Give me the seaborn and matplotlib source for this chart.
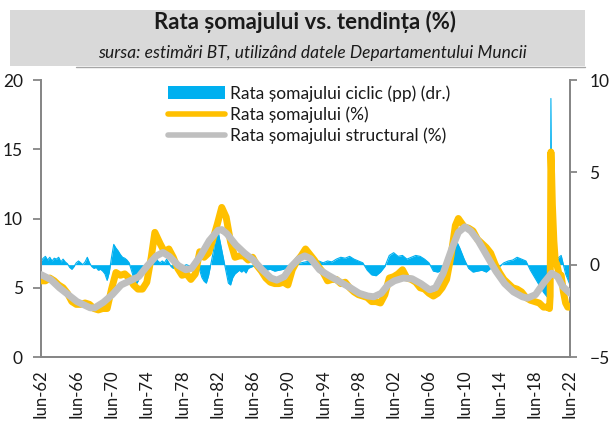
import numpy as np
import pandas as pd
import matplotlib
matplotlib.use("Agg")
import matplotlib.pyplot as plt
import seaborn as sns
from matplotlib.patches import Patch, Rectangle
from matplotlib.lines import Line2D

# ---------------- data ----------------
unemp_dates = [
    "1962-06", "1962-12", "1963-06", "1963-12", "1964-06", "1964-12", "1965-06", "1965-12",
    "1966-06", "1966-12", "1967-06", "1967-12", "1968-06", "1968-12", "1969-06", "1969-12",
    "1970-06", "1970-12", "1971-06", "1971-12", "1972-06", "1972-12", "1973-06", "1973-12",
    "1974-06", "1974-12", "1975-05", "1975-12", "1976-06", "1976-12", "1977-06", "1977-12",
    "1978-06", "1978-12", "1979-06", "1979-12", "1980-06", "1980-12", "1981-06", "1981-12",
    "1982-06", "1982-12", "1983-06", "1983-12", "1984-06", "1984-12", "1985-06", "1985-12",
    "1986-06", "1986-12", "1987-06", "1987-12", "1988-06", "1988-12", "1989-06", "1989-12",
    "1990-06", "1990-12", "1991-06", "1991-12", "1992-06", "1992-12", "1993-06", "1993-12",
    "1994-06", "1994-12", "1995-06", "1995-12", "1996-06", "1996-12", "1997-06", "1997-12",
    "1998-06", "1998-12", "1999-06", "1999-12", "2000-06", "2000-12", "2001-06", "2001-12",
    "2002-06", "2002-12", "2003-06", "2003-12", "2004-06", "2004-12", "2005-06", "2005-12",
    "2006-06", "2006-12", "2007-06", "2007-12", "2008-06", "2008-12", "2009-06", "2009-10",
    "2010-06", "2010-12", "2011-06", "2011-12", "2012-06", "2012-12", "2013-06", "2013-12",
    "2014-06", "2014-12", "2015-06", "2015-12", "2016-06", "2016-12", "2017-06", "2017-12",
    "2018-06", "2018-12", "2019-06", "2019-12", "2020-02", "2020-03", "2020-04", "2020-05",
    "2020-06", "2020-08", "2020-10", "2020-12", "2021-03", "2021-06", "2021-09", "2021-12",
    "2022-03", "2022-06",
]
unemp_vals = [
    5.5, 5.5, 5.7, 5.5, 5.2, 5.0, 4.6, 4.0,
    3.8, 3.8, 3.9, 3.8, 3.5, 3.4, 3.5, 3.5,
    4.9, 6.1, 5.9, 6.0, 5.7, 5.2, 4.9, 4.9,
    5.4, 7.2, 9.0, 8.2, 7.6, 7.8, 7.2, 6.4,
    5.9, 6.0, 5.6, 6.0, 7.6, 7.2, 7.5, 8.5,
    9.6, 10.8, 10.1, 8.3, 7.2, 7.3, 7.3, 7.0,
    7.2, 6.6, 6.2, 5.7, 5.4, 5.3, 5.3, 5.4,
    5.2, 6.3, 6.9, 7.3, 7.8, 7.4, 7.0, 6.5,
    6.1, 5.5, 5.6, 5.6, 5.3, 5.4, 5.0, 4.7,
    4.5, 4.4, 4.3, 4.0, 4.0, 3.9, 4.5, 5.7,
    5.8, 6.0, 6.3, 5.7, 5.6, 5.4, 5.0, 4.9,
    4.6, 4.4, 4.6, 5.0, 5.6, 7.3, 9.5, 10.0,
    9.4, 9.3, 9.1, 8.5, 8.2, 7.9, 7.5, 6.7,
    6.1, 5.6, 5.3, 5.0, 4.9, 4.7, 4.3, 4.1,
    4.0, 3.9, 3.6, 3.6, 3.5, 4.4, 14.8, 13.2,
    11.0, 8.4, 6.9, 6.7, 6.0, 5.9, 4.7, 3.9,
    3.6, 3.6,
]

struct_dates = [
    "1962-06", "1963-07", "1964-07", "1965-07", "1966-07", "1967-07", "1968-01", "1968-07",
    "1969-07", "1970-07", "1971-07", "1972-07", "1973-07", "1974-07", "1975-07", "1976-04",
    "1977-01", "1978-01", "1978-11", "1979-07", "1980-07", "1981-07", "1982-07", "1982-12",
    "1983-07", "1984-07", "1985-07", "1986-07", "1987-07", "1988-07", "1989-03", "1990-01",
    "1990-10", "1991-09", "1992-05", "1993-01", "1994-01", "1995-01", "1996-04", "1997-07",
    "1998-07", "1999-07", "2000-03", "2001-01", "2001-10", "2002-07", "2003-07", "2004-07",
    "2005-07", "2006-07", "2007-03", "2008-01", "2009-01", "2009-10", "2010-07", "2011-03",
    "2012-01", "2013-01", "2014-01", "2015-01", "2016-01", "2017-01", "2017-08", "2018-07",
    "2019-07", "2020-05", "2021-01", "2021-08", "2022-06",
]
struct_vals = [
    5.95, 5.6, 5.0, 4.5, 4.0, 3.7, 3.55, 3.55,
    3.95, 4.5, 5.2, 5.5, 5.8, 6.6, 7.3, 7.55,
    7.25, 6.6, 6.3, 6.4, 7.3, 8.4, 9.15, 9.2,
    8.9, 8.1, 7.5, 7.0, 6.3, 5.7, 5.55, 5.8,
    6.5, 7.1, 7.3, 7.1, 6.3, 5.9, 5.45, 5.0,
    4.6, 4.4, 4.35, 4.6, 5.2, 5.5, 5.7, 5.65,
    5.3, 4.85, 5.0, 6.0, 7.8, 9.0, 9.4, 9.1,
    8.4, 7.3, 6.2, 5.3, 4.7, 4.35, 4.25, 4.5,
    5.4, 6.05, 5.8, 5.1, 4.6,
]

cyc_dates = [
    "1962-06", "1962-09", "1962-12", "1963-03", "1963-06", "1963-09", "1963-12", "1964-03",
    "1964-06", "1964-09", "1964-12", "1965-03", "1965-06", "1965-09", "1965-12", "1966-03",
    "1966-06", "1966-09", "1966-12", "1967-03", "1967-06", "1967-09", "1967-12", "1968-03",
    "1968-06", "1968-09", "1968-12", "1969-03", "1969-06", "1969-09", "1969-12", "1970-03",
    "1970-06", "1970-09", "1970-12", "1971-03", "1971-06", "1971-09", "1971-12", "1972-03",
    "1972-06", "1972-09", "1972-12", "1973-03", "1973-06", "1973-09", "1973-12", "1974-03",
    "1974-06", "1974-09", "1974-12", "1975-03", "1975-06", "1975-09", "1975-12", "1976-03",
    "1976-06", "1976-09", "1976-12", "1977-03", "1977-06", "1977-09", "1977-12", "1978-06",
    "1978-12", "1979-06", "1979-12", "1980-03", "1980-06", "1980-09", "1980-12", "1981-03",
    "1981-06", "1981-09", "1981-12", "1982-03", "1982-06", "1982-09", "1982-12", "1983-03",
    "1983-06", "1983-09", "1983-12", "1984-03", "1984-06", "1984-09", "1984-12", "1985-03",
    "1985-06", "1985-09", "1985-12", "1986-06", "1986-12", "1987-06", "1987-12", "1988-06",
    "1988-12", "1989-06", "1989-12", "1990-06", "1990-12", "1991-06", "1991-12", "1992-06",
    "1992-12", "1993-06", "1993-12", "1994-06", "1994-12", "1995-06", "1995-12", "1996-06",
    "1996-12", "1997-06", "1997-12", "1998-06", "1998-12", "1999-06", "1999-12", "2000-06",
    "2000-12", "2001-06", "2001-09", "2001-12", "2002-06", "2002-12", "2003-06", "2003-12",
    "2004-06", "2004-12", "2005-06", "2005-12", "2006-06", "2006-12", "2007-06", "2007-12",
    "2008-06", "2008-12", "2009-06", "2009-09", "2009-12", "2010-06", "2010-12", "2011-06",
    "2011-12", "2012-06", "2012-12", "2013-06", "2013-12", "2014-06", "2014-12", "2015-06",
    "2015-12", "2016-06", "2016-12", "2017-06", "2017-12", "2018-06", "2018-12", "2019-06",
    "2019-12", "2020-02", "2020-03", "2020-04", "2020-05", "2020-06", "2020-09", "2020-12",
    "2021-03", "2021-06", "2021-09", "2021-12", "2022-03", "2022-06",
]
cyc_vals = [
    0.2, 0.35, 0.45, 0.25, 0.4, 0.2, 0.35, 0.3,
    0.4, 0.15, 0.3, 0.15, 0.05, -0.15, -0.25, -0.1,
    0.1, 0.2, 0.1, 0.0, 0.15, 0.4, 0.1, -0.1,
    -0.2, -0.15, -0.3, -0.25, -0.35, -0.5, -0.85, -0.4,
    0.4, 1.1, 0.9, 0.75, 0.55, 0.4, 0.35, 0.25,
    0.1, -0.3, -0.7, -1.1, -0.9, -0.6, -0.3, -0.1,
    0.0, 0.1, 0.3, 0.5, 0.4, 0.2, 0.1, 0.2,
    0.1, 0.3, 0.1, -0.1, -0.2, -0.1, 0.0, -0.1,
    0.0, -0.1, 0.0, 0.0, -0.3, -0.7, -0.9, -1.0,
    -0.6, 0.0, 0.6, 1.3, 2.0, 1.4, 0.8, 0.2,
    -0.4, -1.0, -1.1, -0.7, -0.5, -0.4, -0.3, -0.4,
    -0.3, -0.45, -0.2, -0.1, 0.0, -0.15, -0.3, -0.25,
    -0.35, -0.3, -0.25, -0.1, 0.0, 0.05, 0.1, 0.15,
    0.2, 0.15, 0.2, 0.1, 0.2, 0.15, 0.3, 0.4,
    0.35, 0.45, 0.3, 0.2, 0.1, -0.3, -0.55, -0.6,
    -0.4, -0.1, 0.2, 0.5, 0.65, 0.45, 0.5, 0.3,
    0.4, 0.5, 0.45, 0.3, 0.1, -0.35, -0.4, -0.3,
    -0.1, 0.3, 1.1, 1.15, 0.9, 0.3, -0.2, -0.4,
    -0.35, -0.3, -0.4, -0.2, -0.25, -0.1, 0.1, 0.2,
    0.25, 0.4, 0.3, 0.2, -0.3, -0.7, -1.1, -1.5,
    -1.8, -2.0, -1.0, 9.0, 2.5, 0.4, 0.3, 0.3,
    0.4, 0.5, 0.0, -0.5, -0.8, -1.1,
]

tick_years = [1962, 1966, 1970, 1974, 1978, 1982, 1986, 1990, 1994, 1998,
              2002, 2006, 2010, 2014, 2018, 2022]
tick_labels = ["Iun-62", "Iun-66", "Iun-70", "Iun-74", "Iun-78", "Iun-82", "Iun-86",
               "Iun-90", "Iun-94", "Iun-98", "Iun-02", "Iun-06", "Iun-10", "Iun-14",
               "Iun-18", "Iun-22"]

title = "Rata șomajului vs. tendința (%)"
subtitle = "sursa: estimări BT, utilizând datele Departamentului Muncii"
lab_cyc = "Rata șomajului ciclic (pp) (dr.)"
lab_rate = "Rata șomajului (%)"
lab_struct = "Rata șomajului structural (%)"

# ---------------- styling ----------------
BLUE = "#00B0F0"
ORANGE = "#FFC000"
GREY = "#BFBFBF"
AXC = "#868686"
TXT = "#1a1a1a"

sns.set_theme(style="white")
plt.rcParams["font.family"] = ["Lato", "DejaVu Sans"]

W, H = 609, 421
fig = plt.figure(figsize=(W / 100, H / 100), dpi=100)

# header box
fig.add_artist(Rectangle((10 / W, 1 - 66 / H), (585 - 10) / W, (66 - 10) / H,
                         transform=fig.transFigure, facecolor="#D9D9D9",
                         edgecolor="none", zorder=0))
fig.add_artist(Line2D([76 / W, 585 / W], [1 - 66.5 / H] * 2, transform=fig.transFigure,
                      color="#A6A6A6", lw=1.0))
fig.text(305 / W, 1 - 22 / H, title, ha="center", va="center", fontsize=16,
         fontweight="bold", color=TXT)
fig.text(312 / W, 1 - 53 / H, subtitle, ha="center", va="center", fontsize=12.5,
         style="italic", color=TXT)

L, R, T, B = 41, 570, 80, 357
ax = fig.add_axes([L / W, 1 - B / H, (R - L) / W, (B - T) / H])
ax2 = ax.twinx()

ud = pd.to_datetime(unemp_dates)
sd = pd.to_datetime(struct_dates)
cd = pd.to_datetime(cyc_dates)

# cyclical area on the right axis (behind)
ax2.fill_between(cd, 0, cyc_vals, color=BLUE, lw=0)
sns.lineplot(x=cd, y=cyc_vals, ax=ax2, color=BLUE, lw=0.8, legend=False)

# lines on the left axis (on top)
sns.lineplot(x=ud, y=unemp_vals, ax=ax, color=ORANGE, lw=5.0, legend=False,
             solid_capstyle="round", solid_joinstyle="round", zorder=3)
sns.lineplot(x=sd, y=struct_vals, ax=ax, color=GREY, lw=5.0, legend=False,
             solid_capstyle="round", solid_joinstyle="round", zorder=4)

ax.set_zorder(ax2.get_zorder() + 1)
ax.patch.set_visible(False)

x0 = pd.Timestamp(1962, 6, 1)
x1 = pd.Timestamp(2022, 6, 1)
ax.set_xlim(x0, x1)
ax.set_ylim(0, 20)
ax2.set_ylim(-5, 10)
ax.set_yticks([0, 5, 10, 15, 20])
ax2.set_yticks([-5, 0, 5, 10])
ax.set_xticks([pd.Timestamp(y, 6, 1) for y in tick_years])
ax.set_xticklabels(tick_labels, rotation=90)
ax.set_xlabel("")
ax.set_ylabel("")
ax2.set_ylabel("")

for a in (ax, ax2):
    for s in a.spines.values():
        s.set_color(AXC)
        s.set_linewidth(1.3)
    a.spines["top"].set_visible(False)
    a.grid(False)

ax.tick_params(axis="both", which="major", direction="out", length=6, width=1.3,
               color=AXC, labelsize=12.5, labelcolor=TXT)
ax.tick_params(axis="y", pad=7)
ax.tick_params(axis="x", pad=3, labelsize=12)
ax2.tick_params(axis="y", direction="out", length=5, width=1.3, color=AXC,
                labelsize=12.5, labelcolor=TXT, pad=9)

handles = [
    Patch(facecolor=BLUE, edgecolor="none"),
    Line2D([0], [0], color=ORANGE, lw=4.0, solid_capstyle="round"),
    Line2D([0], [0], color=GREY, lw=4.0, solid_capstyle="round"),
]
leg = ax.legend(handles, [lab_cyc, lab_rate, lab_struct], loc="upper left",
                bbox_to_anchor=(168 / W, 1 - 85 / H), bbox_transform=fig.transFigure,
                frameon=False, fontsize=12.5, handlelength=3.3, handletextpad=0.3,
                labelspacing=0.28, borderpad=0, borderaxespad=0, handleheight=0.75)
for t in leg.get_texts():
    t.set_color(TXT)

fig.savefig("out.png", dpi=100)
